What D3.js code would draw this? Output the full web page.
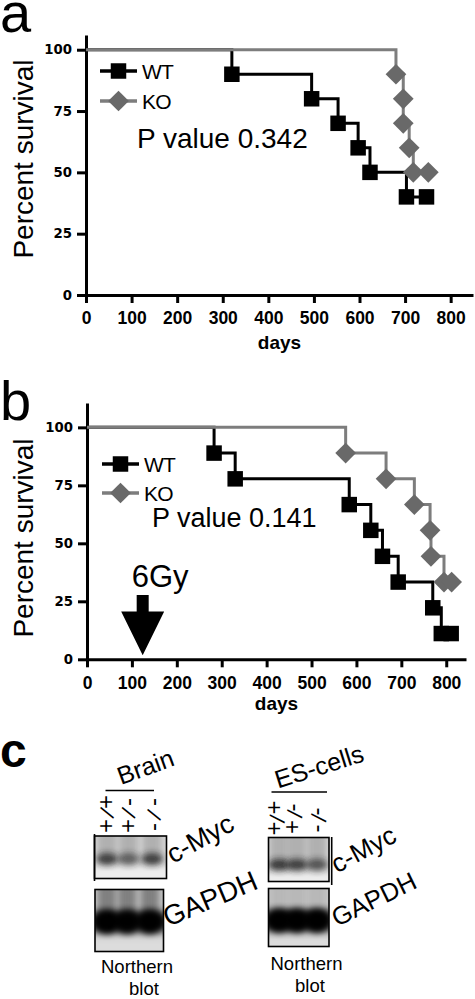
<!DOCTYPE html>
<html>
<head>
<meta charset="utf-8">
<script src="https://cdn.jsdelivr.net/npm/d3@7"></script>
<style>
  html, body { margin: 0; padding: 0; background: #fff; }
  svg { display: block; font-family: "Liberation Sans", Arial, sans-serif; }
</style>
</head>
<body>
<svg id="chart" width="475" height="999"></svg>
<script>
// ---------------- data ----------------
const dayTicks = [0, 100, 200, 300, 400, 500, 600, 700, 800];
const survTicks = [0, 25, 50, 75, 100];

// panel a (Kaplan-Meier points: day of event, survival after event)
const aWTDays = [320, 495, 553, 597, 623, 703, 747];
const aWTSurv = [90, 80, 70, 60, 50, 40, 40];
const aKODays = [680, 696, 696, 709, 718, 751];
const aKOSurv = [90, 80, 70, 60, 50, 50];
const aPValue = "P value 0.342";

// panel b
const bWTDays = [283, 330, 584, 632, 658, 693, 770, 789, 811];
const bWTSurv = [88.9, 77.8, 66.7, 55.6, 44.4, 33.3, 22.2, 11.1, 11.1];
const bKODays = [576, 666, 729, 764, 766, 795, 812];
const bKOSurv = [88.9, 77.8, 66.7, 55.6, 44.4, 33.3, 33.3];
const bPValue = "P value 0.141";
const irradiationDay = 124;
const irradiationLabel = "6Gy";

const seriesNames = ["WT", "KO"];

// panel c (northern blots)
const genotypes = ["+/+", "+/-", "-/-"];
const brainMyc = [0.85, 0.65, 0.85];
const brainGapdh = [1, 0.97, 1];
const esMyc = [0.88, 0.85, 0.72];
const esGapdh = [1, 1, 1];

// ---------------- drawing ----------------
const svg = d3.select("#chart");
svg.append("rect").attr("width", 475).attr("height", 999).attr("fill", "#fff");

const WT_COLOR = "#000";
const KO_LINE = "#7d7d7d";
const KO_MARK = "#696969";

const defs = svg.append("defs");
defs.append("filter").attr("id", "blur3").attr("x", "-50%").attr("y", "-50%").attr("width", "200%").attr("height", "200%")
  .append("feGaussianBlur").attr("stdDeviation", 3);
defs.append("filter").attr("id", "blur4").attr("x", "-50%").attr("y", "-50%").attr("width", "200%").attr("height", "200%")
  .append("feGaussianBlur").attr("stdDeviation", 4);

function drawSurvivalPanel(cfg) {
  const g = svg.append("g");
  const x = d3.scaleLinear().domain([0, cfg.xMax]).range(cfg.xRange);
  const y = d3.scaleLinear().domain([0, cfg.yMax]).range(cfg.yRange);

  const xAxis = d3.axisBottom(x).tickValues(dayTicks).tickSize(8).tickSizeOuter(0).tickPadding(9);
  const yAxis = d3.axisLeft(y).tickValues(survTicks).tickSize(9).tickSizeOuter(0).tickPadding(5);

  const gx = g.append("g").attr("transform", `translate(0,${cfg.yRange[0]})`).call(xAxis);
  const gy = g.append("g").attr("transform", `translate(${cfg.xRange[0]},0)`).call(yAxis);
  [gx, gy].forEach(a => {
    a.select(".domain").attr("stroke", "#000").attr("stroke-width", 3);
    a.selectAll(".tick line").attr("stroke", "#000").attr("stroke-width", 3);
  });
  gx.selectAll(".tick text").attr("font-family", "'Liberation Sans', Arial, sans-serif")
    .attr("font-weight", "bold").attr("font-size", 17.5).attr("fill", "#000");
  gy.selectAll(".tick text").attr("font-family", "'DejaVu Sans', sans-serif")
    .attr("font-weight", "bold").attr("font-size", 13.3).attr("fill", "#000");

  g.append("text").attr("x", (cfg.xRange[0] + cfg.xRange[1]) / 2).attr("y", cfg.daysY)
    .attr("text-anchor", "middle").attr("font-weight", "bold").attr("font-size", 19).text("days");
  g.append("text").attr("transform", `translate(33,${cfg.ylabY}) rotate(-90)`)
    .attr("text-anchor", "middle").attr("font-size", 28).text("Percent survival");

  g.append("text").attr("x", 0).attr("y", cfg.letterY).attr("font-size", 56).text(cfg.letter);

  const line = d3.line().x(d => x(d[0])).y(d => y(d[1])).curve(d3.curveStepAfter);
  const series = [
    { name: "WT", days: cfg.wtDays, surv: cfg.wtSurv, color: WT_COLOR, mark: WT_COLOR, sym: "square" },
    { name: "KO", days: cfg.koDays, surv: cfg.koSurv, color: KO_LINE, mark: KO_MARK, sym: "diamond" }
  ];
  const sq = d3.symbol().type(d3.symbolSquare).size(240);
  const dm = d3.symbol().type(d3.symbolSquare).size(215);

  series.forEach(s => {
    const pts = [[0, 100]].concat(s.days.map((d, i) => [d, s.surv[i]]));
    g.append("path").attr("d", line(pts)).attr("fill", "none").attr("stroke", s.color).attr("stroke-width", 3);
    g.selectAll(null).data(s.days.map((d, i) => [d, s.surv[i]])).enter().append("path")
      .attr("d", s.sym === "square" ? sq() : dm())
      .attr("transform", d => `translate(${x(d[0])},${y(d[1])})` + (s.sym === "diamond" ? " rotate(45)" : ""))
      .attr("fill", s.mark);
  });

  series.forEach((s, i) => {
    const ly = cfg.legendY[i];
    g.append("line").attr("x1", cfg.legendX).attr("x2", cfg.legendX + 37).attr("y1", ly).attr("y2", ly)
      .attr("stroke", s.color).attr("stroke-width", 3.5);
    g.append("path").attr("d", s.sym === "square" ? sq() : dm())
      .attr("transform", `translate(${cfg.legendX + 18.5},${ly})` + (s.sym === "diamond" ? " rotate(45)" : ""))
      .attr("fill", s.mark);
    g.append("text").attr("x", cfg.legendX + 42).attr("y", ly + 7.5).attr("font-size", 21)
      .attr("letter-spacing", -0.8).text(s.name);
  });

  g.append("text").attr("x", cfg.pX).attr("y", cfg.pY).attr("font-size", cfg.pSize).text(cfg.pText);
  return { g, x, y };
}

drawSurvivalPanel({
  letter: "a", letterY: 32,
  xMax: 849, xRange: [86, 473], yMax: 106, yRange: [295, 35],
  daysY: 349, ylabY: 159,
  wtDays: aWTDays, wtSurv: aWTSurv, koDays: aKODays, koSurv: aKOSurv,
  legendX: 100, legendY: [71, 101],
  pX: 137, pY: 148, pSize: 28, pText: aPValue
});

const pb = drawSurvivalPanel({
  letter: "b", letterY: 420,
  xMax: 844, xRange: [87, 466], yMax: 110.5, yRange: [659.3, 403],
  daysY: 710, ylabY: 538,
  wtDays: bWTDays, wtSurv: bWTSurv, koDays: bKODays, koSurv: bKOSurv,
  legendX: 102, legendY: [464, 493],
  pX: 152, pY: 527, pSize: 27, pText: bPValue
});

// irradiation arrow
{
  const ax = pb.x(irradiationDay);
  const tipY = pb.y(0) - 4;
  const arrow = d3.path();
  arrow.moveTo(ax - 6, 595);
  arrow.lineTo(ax + 6, 595);
  arrow.lineTo(ax + 6, 611.5);
  arrow.lineTo(ax + 21.5, 611.5);
  arrow.lineTo(ax, tipY);
  arrow.lineTo(ax - 21.5, 611.5);
  arrow.lineTo(ax - 6, 611.5);
  arrow.closePath();
  pb.g.append("path").attr("d", arrow.toString()).attr("fill", "#000");
  pb.g.append("text").attr("x", ax - 11).attr("y", 587).attr("font-size", 31).text(irradiationLabel);
}

// ---------------- panel c ----------------
const gc = svg.append("g");
gc.append("text").attr("x", 0).attr("y", 767).attr("font-size", 48).attr("font-weight", "bold").text("c");

const laneFrac = [0.175, 0.47, 0.8];
let clipId = 0;
function drawBlot(box, intens, kind) {
  const id = "clip" + (clipId++);
  defs.append("clipPath").attr("id", id).append("rect")
    .attr("x", box.x).attr("y", box.y).attr("width", box.w).attr("height", box.h);
  const g = gc.append("g").attr("clip-path", `url(#${id})`);
  const bandY = box.y + box.h * box.band;
  if (kind === "myc") {
    g.append("rect").attr("x", box.x).attr("y", box.y).attr("width", box.w).attr("height", box.h).attr("fill", "#d4d4d4");
    g.append("rect").attr("x", box.x - 5).attr("y", bandY + 8).attr("width", box.w + 10).attr("height", box.h).attr("fill", "#ededed").attr("filter", "url(#blur3)");
    intens.forEach((v, i) => {
      const cx = box.x + box.w * laneFrac[i];
      g.append("rect").attr("x", cx - 9).attr("y", box.y - 6).attr("width", 18).attr("height", bandY - box.y + 4)
        .attr("fill", "#8c8c8c").attr("opacity", 0.5).attr("filter", "url(#blur3)");
      g.append("ellipse").attr("cx", cx).attr("cy", bandY).attr("rx", 11).attr("ry", 6)
        .attr("fill", "#202020").attr("opacity", v).attr("filter", "url(#blur3)");
    });
  } else {
    g.append("rect").attr("x", box.x).attr("y", box.y).attr("width", box.w).attr("height", box.h).attr("fill", "#c8c8c8");
    g.append("rect").attr("x", box.x - 5).attr("y", bandY + 16).attr("width", box.w + 10).attr("height", box.h).attr("fill", "#dcdcdc").attr("filter", "url(#blur3)");
    intens.forEach((v, i) => {
      const cx = box.x + box.w * laneFrac[i];
      g.append("rect").attr("x", cx - 9).attr("y", box.y - 6).attr("width", 18).attr("height", bandY - box.y + 6)
        .attr("fill", box.topShade).attr("opacity", 0.8).attr("filter", "url(#blur3)");
    });
    g.append("rect").attr("x", box.x - 4).attr("y", bandY - 9).attr("width", box.w + 8).attr("height", 18)
      .attr("fill", "#000").attr("opacity", 0.9).attr("filter", "url(#blur4)");
    intens.forEach((v, i) => {
      const cx = box.x + box.w * laneFrac[i];
      g.append("ellipse").attr("cx", cx).attr("cy", bandY).attr("rx", 13).attr("ry", 12)
        .attr("fill", "#000").attr("opacity", v).attr("filter", "url(#blur3)");
    });
  }
  gc.append("rect").attr("x", box.x).attr("y", box.y).attr("width", box.w).attr("height", box.h)
    .attr("fill", "none").attr("stroke", "#000").attr("stroke-width", 1.6);
}

// genotype labels read bottom-to-top: first allele at the bottom, second on top
function drawGenotypes(xs, tops, slashYs, bottoms, slashAngle, slashDx) {
  genotypes.forEach((gt, i) => {
    const [a, b] = gt.split("/");
    gc.append("text").attr("transform", `translate(${xs[i]},${bottoms[i]}) rotate(-90)`)
      .attr("text-anchor", "middle").attr("dominant-baseline", "central").attr("font-size", 24).text(a);
    gc.append("text").attr("transform", `translate(${xs[i] + slashDx},${slashYs[i]}) rotate(${slashAngle})`)
      .attr("text-anchor", "middle").attr("dominant-baseline", "central").attr("font-size", 22).text("/");
    gc.append("text").attr("transform", `translate(${xs[i]},${tops[i]}) rotate(-90)`)
      .attr("text-anchor", "middle").attr("dominant-baseline", "central").attr("font-size", 24).text(b);
  });
}

function rotLabel(txt, x, y, ang, size) {
  gc.append("text").attr("transform", `translate(${x},${y}) rotate(${ang})`).attr("font-size", size).text(txt);
}

// Brain
rotLabel("Brain", 121, 785, -20, 25);
gc.append("line").attr("x1", 105.5).attr("x2", 154).attr("y1", 790.5).attr("y2", 790.5).attr("stroke", "#000").attr("stroke-width", 1.6);
drawGenotypes([105.5, 127, 152.5], [802, 802, 802], [813, 813, 815], [826, 826, 827], -66, 2);
drawBlot({ x: 94.5, y: 836, w: 72, h: 42.5, band: 0.54 }, brainMyc, "myc");
gc.append("line").attr("x1", 94.5).attr("x2", 94.5).attr("y1", 834).attr("y2", 881).attr("stroke", "#000").attr("stroke-width", 1.6);
drawBlot({ x: 95, y: 889.5, w: 68.5, h: 62, band: 0.52, topShade: "#6e6e6e" }, brainGapdh, "gapdh");
rotLabel("c-Myc", 173, 864, -29, 27);
rotLabel("GAPDH", 168, 927, -23, 28);
gc.append("text").attr("x", 137).attr("y", 973).attr("text-anchor", "middle").attr("font-size", 18.5).text("Northern");
gc.append("text").attr("x", 144).attr("y", 995).attr("text-anchor", "middle").attr("font-size", 18.5).text("blot");

// ES cells
rotLabel("ES-cells", 278, 788.5, -17.5, 25);
gc.append("line").attr("x1", 271.5).attr("x2", 327).attr("y1", 792).attr("y2", 792).attr("stroke", "#000").attr("stroke-width", 1.6);
drawGenotypes([273.5, 291, 315], [807.5, 807.5, 811.5], [819, 814, 818], [828.5, 827, 828.5], -78, 4);
drawBlot({ x: 268.5, y: 837.5, w: 60.5, h: 44, band: 0.62 }, esMyc, "myc");
gc.append("line").attr("x1", 331.7).attr("x2", 331.7).attr("y1", 837).attr("y2", 885).attr("stroke", "#000").attr("stroke-width", 1.6);
drawBlot({ x: 268.5, y: 888.5, w: 60.5, h: 58, band: 0.55, topShade: "#b4b4b4" }, esGapdh, "gapdh");
rotLabel("c-Myc", 337, 873.5, -28, 26);
rotLabel("GAPDH", 337, 927, -26, 25.5);
gc.append("text").attr("x", 306.5).attr("y", 970).attr("text-anchor", "middle").attr("font-size", 18.5).text("Northern");
gc.append("text").attr("x", 310).attr("y", 992).attr("text-anchor", "middle").attr("font-size", 18.5).text("blot");
</script>
</body>
</html>
